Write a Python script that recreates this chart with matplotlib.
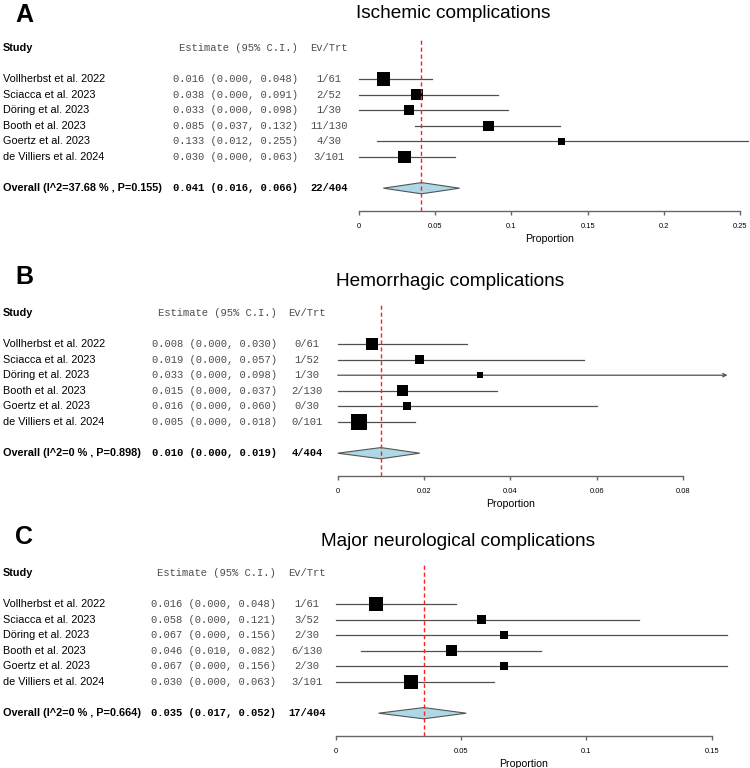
import matplotlib
matplotlib.use("Agg")
import matplotlib.pyplot as plt
import matplotlib.transforms as mtransforms
import numpy as np

# ---------------- data ----------------
studies = ["Vollherbst et al. 2022", "Sciacca et al. 2023", "Döring et al. 2023",
           "Booth et al. 2023", "Goertz et al. 2023", "de Villiers et al. 2024"]

titles = ["Ischemic complications", "Hemorrhagic complications", "Major neurological complications"]
letters = ["A", "B", "C"]

# Panel A - ischemic
a_est = [0.016, 0.038, 0.033, 0.085, 0.133, 0.030]
a_lo = [0.000, 0.000, 0.000, 0.037, 0.012, 0.000]
a_hi = [0.048, 0.091, 0.098, 0.132, 0.255, 0.063]
a_ev = ["1/61", "2/52", "1/30", "11/130", "4/30", "3/101"]
a_w = [25.6, 17.8, 14.4, 14.4, 6.4, 21.5]
a_overall = (0.041, 0.016, 0.066)
a_overall_ev = "22/404"
a_het = "Overall (I^2=37.68 % , P=0.155)"
a_ticks = [0, 0.05, 0.1, 0.15, 0.2, 0.25]
a_ticklabels = ["0", "0.05", "0.1", "0.15", "0.2", "0.25"]

# Panel B - hemorrhagic
b_est = [0.008, 0.019, 0.033, 0.015, 0.016, 0.005]
b_lo = [0.000, 0.000, 0.000, 0.000, 0.000, 0.000]
b_hi = [0.030, 0.057, 0.098, 0.037, 0.060, 0.018]
b_ev = ["0/61", "1/52", "1/30", "2/130", "0/30", "0/101"]
b_w = [21.5, 10.5, 5.4, 17.4, 9.0, 36.3]
b_overall = (0.010, 0.000, 0.019)
b_overall_ev = "4/404"
b_het = "Overall (I^2=0 % , P=0.898)"
b_ticks = [0, 0.02, 0.04, 0.06, 0.08]
b_ticklabels = ["0", "0.02", "0.04", "0.06", "0.08"]

# Panel C - major neurological
c_est = [0.016, 0.058, 0.067, 0.046, 0.067, 0.030]
c_lo = [0.000, 0.000, 0.000, 0.010, 0.000, 0.000]
c_hi = [0.048, 0.121, 0.156, 0.082, 0.156, 0.063]
c_ev = ["1/61", "3/52", "2/30", "6/130", "2/30", "3/101"]
c_w = [29.2, 11.8, 8.7, 17.4, 8.7, 24.2]
c_overall = (0.035, 0.017, 0.052)
c_overall_ev = "17/404"
c_het = "Overall (I^2=0 % , P=0.664)"
c_ticks = [0, 0.05, 0.1, 0.15]
c_ticklabels = ["0", "0.05", "0.1", "0.15"]

# ---------------- layout ----------------
W, H = 750, 768
fig = plt.figure(figsize=(W / 100, H / 100), dpi=100)

SANS = "Liberation Sans"
MONO = "Liberation Mono"
GRAY_TXT = "#4d4d4d"
LINE_C = "#505050"

panels = [
    dict(est=a_est, lo=a_lo, hi=a_hi, ev=a_ev, w=a_w, ov=a_overall, ovev=a_overall_ev, het=a_het,
         ticks=a_ticks, tl=a_ticklabels, x0=359, x1=740, row1=79, xclip=0.26,
         est_right=298, ev_c=329, title_c=453, title_y=13, letter_y=15),
    dict(est=b_est, lo=b_lo, hi=b_hi, ev=b_ev, w=b_w, ov=b_overall, ovev=b_overall_ev, het=b_het,
         ticks=b_ticks, tl=b_ticklabels, x0=337.7, x1=683, row1=344, xclip=0.0903,
         est_right=277, ev_c=307, title_c=450, title_y=281, letter_y=277),
    dict(est=c_est, lo=c_lo, hi=c_hi, ev=c_ev, w=c_w, ov=c_overall, ovev=c_overall_ev, het=c_het,
         ticks=c_ticks, tl=c_ticklabels, x0=336, x1=711.7, row1=604, xclip=0.16,
         est_right=276, ev_c=307, title_c=458, title_y=541, letter_y=537),
]

ROW = 15.6          # px per row
Y_TOP, Y_BOT = -1.5, 9.45
FS = 7.8
FM = 7.6

for i, p in enumerate(panels):
    top_px = p["row1"] + (Y_TOP - 1) * ROW
    bot_px = p["row1"] + (Y_BOT - 1) * ROW
    ax = fig.add_axes([p["x0"] / W, 1 - bot_px / H, (p["x1"] - p["x0"]) / W, (bot_px - top_px) / H])
    ax.set_xlim(0, p["ticks"][-1])
    ax.set_ylim(Y_BOT, Y_TOP)
    for s in ["top", "right", "left"]:
        ax.spines[s].set_visible(False)
    ax.spines["bottom"].set_color("#666666")
    ax.spines["bottom"].set_linewidth(1.0)
    ax.set_yticks([])
    ax.set_xticks(p["ticks"])
    ax.set_xticklabels(p["tl"], fontsize=5.4, family=SANS)
    ax.tick_params(axis="x", length=3, width=1.0, color="#666666", pad=6)
    ax.set_xlabel("Proportion", fontsize=7.6, family=SANS, labelpad=2.5)
    ax.patch.set_alpha(0)

    rows = np.arange(1, 7)
    xclip = p["xclip"]
    for r, lo, hi in zip(rows, p["lo"], p["hi"]):
        if hi > xclip:
            ax.annotate("", xy=(xclip, r), xytext=(lo, r),
                        arrowprops=dict(arrowstyle="->", color=LINE_C, lw=0.9,
                                        shrinkA=0, shrinkB=0, mutation_scale=6),
                        annotation_clip=False)
        else:
            ax.plot([lo, hi], [r, r], color=LINE_C, lw=0.9, clip_on=False)
    sizes_px = 2.7 * np.sqrt(np.array(p["w"]))
    ax.scatter(p["est"], rows, s=(sizes_px * 0.72) ** 2, marker="s", color="black",
               zorder=3, clip_on=False, linewidths=0)

    est, lo, hi = p["ov"]
    hd = 0.36
    ax.fill([lo, est, hi, est], [8, 8 - hd, 8, 8 + hd], facecolor="#add8e6",
            edgecolor="#555555", lw=0.8, zorder=3, clip_on=False)
    ax.axvline(est, color="#ff2020", ls=(0, (3, 2)), lw=1.0, zorder=4)

    tr = mtransforms.blended_transform_factory(fig.transFigure, ax.transData)
    # header
    ax.text(3 / W, -1, "Study", transform=tr, fontsize=FS, family=SANS, weight="bold",
            va="center", ha="left")
    ax.text(p["est_right"] / W, -1, "Estimate (95% C.I.)", transform=tr, fontsize=FM,
            family=MONO, color=GRAY_TXT, va="center", ha="right")
    ax.text(p["ev_c"] / W, -1, "Ev/Trt", transform=tr, fontsize=FM, family=MONO,
            color=GRAY_TXT, va="center", ha="center")
    for r, name, e, l, h, ev in zip(rows, studies, p["est"], p["lo"], p["hi"], p["ev"]):
        ax.text(3 / W, r, name, transform=tr, fontsize=FS, family=SANS, va="center", ha="left")
        ax.text(p["est_right"] / W, r, f"{e:.3f} ({l:.3f}, {h:.3f})", transform=tr,
                fontsize=FM, family=MONO, color=GRAY_TXT, va="center", ha="right")
        ax.text(p["ev_c"] / W, r, ev, transform=tr, fontsize=FM, family=MONO,
                color=GRAY_TXT, va="center", ha="center")
    ax.text(3 / W, 8, p["het"], transform=tr, fontsize=FS, family=SANS, weight="bold",
            va="center", ha="left")
    ax.text(p["est_right"] / W, 8, f"{est:.3f} ({lo:.3f}, {hi:.3f})", transform=tr,
            fontsize=FM, family=MONO, weight="bold", va="center", ha="right")
    ax.text(p["ev_c"] / W, 8, p["ovev"], transform=tr, fontsize=FM, family=MONO,
            weight="bold", va="center", ha="center")

    fig.text(p["title_c"] / W, 1 - p["title_y"] / H, titles[i], fontsize=13.7, family=SANS,
             ha="center", va="center")
    fig.text(24 / W, 1 - p["letter_y"] / H, letters[i], fontsize=18, family=SANS,
             weight="bold", ha="center", va="center")

fig.savefig("out.png", dpi=100, facecolor="white")
